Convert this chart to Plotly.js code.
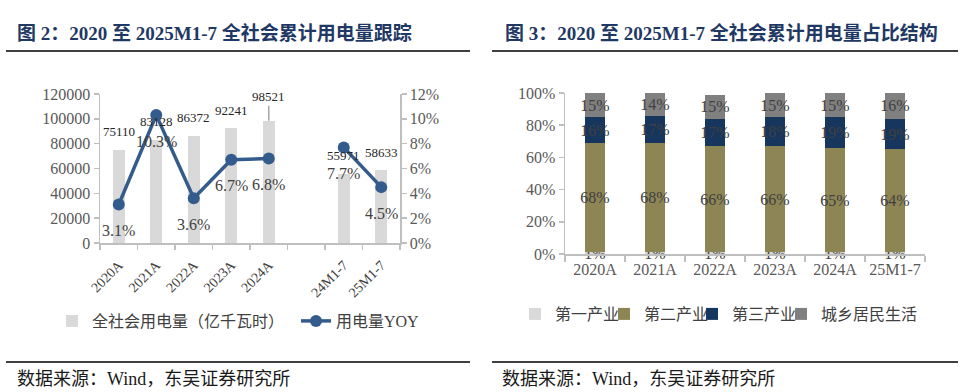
<!DOCTYPE html>
<html>
<head>
<meta charset="utf-8">
<script src="https://cdn.plot.ly/plotly-3.0.1.min.js"></script>
<style>
html,body{margin:0;padding:0;background:#fff;}
#chart{width:960px;height:392px;}
</style>
</head>
<body>
<div id="chart"></div>
<script>
// ---- data: left chart ----
const leftCategories = ['2020A','2021A','2022A','2023A','2024A',' ','24M1-7','25M1-7'];
const consumption = [75110, 83128, 86372, 92241, 98521, null, 55971, 58633];
const yoy = [3.1, 10.3, 3.6, 6.7, 6.8, null, 7.7, 4.5];

// ---- data: right chart ----
const rightCategories = ['2020A','2021A','2022A','2023A','2024A','25M1-7'];
const primaryShare = [1, 1, 1, 1, 1, 1];
const secondaryShare = [68, 68, 66, 66, 65, 64];
const tertiaryShare = [16, 17, 17, 18, 19, 19];
const residentialShare = [15, 14, 15, 15, 15, 16];

const leftTitle = '图 2：2020 至 2025M1-7 全社会累计用电量跟踪';
const rightTitle = '图 3：2020 至 2025M1-7 全社会累计用电量占比结构';
const sourceText = '数据来源：Wind，东吴证券研究所';

const SERIF = '"Liberation Serif", "Times New Roman", "Noto Sans CJK SC", serif';
const W = 960, H = 392;
const px = v => v / W;
const py = v => (H - v) / H;
const axisGray = '#bfbfbf';
const tickColor = '#595959';
const labelColor = '#404040';

const traces = [
  {
    type: 'bar', x: leftCategories, y: consumption, xaxis: 'x', yaxis: 'y',
    name: '全社会用电量（亿千瓦时）', marker: {color: '#d9d9d9'}, width: 0.32,
    legend: 'legend', hoverinfo: 'x+y'
  },
  {
    type: 'scatter', mode: 'lines+markers', x: leftCategories, y: yoy, xaxis: 'x', yaxis: 'y2',
    name: '用电量YOY', line: {color: '#335B8C', width: 3.5}, marker: {color: '#335B8C', size: 12},
    connectgaps: false, legend: 'legend6'
  }
];

const rightSeries = [
  {name: '第一产业', values: primaryShare, color: '#d9d9d9'},
  {name: '第二产业', values: secondaryShare, color: '#8E8554'},
  {name: '第三产业', values: tertiaryShare, color: '#17365D'},
  {name: '城乡居民生活', values: residentialShare, color: '#808080'}
];
rightSeries.forEach((s, k) => {
  traces.push({
    type: 'bar', x: rightCategories, y: s.values, xaxis: 'x2', yaxis: 'y3',
    name: s.name, marker: {color: s.color}, width: 0.32,
    text: s.values.map(v => v + '%'), textposition: 'inside', insidetextanchor: 'middle',
    constraintext: 'none', textangle: 0,
    insidetextfont: {family: SERIF, size: 16, color: labelColor},
    legend: 'legend' + (k + 2), cliponaxis: false
  });
});

const annotations = [];
// bar value labels (left)
const maxConsumption = Math.max(...consumption.filter(d => d !== null));
consumption.forEach((v, i) => {
  if (v === null) return;
  if (v === maxConsumption) {
    annotations.push({x: leftCategories[i], y: v, xref: 'x', yref: 'y', text: String(v),
      showarrow: true, arrowhead: 0, arrowwidth: 1.5, arrowcolor: '#a6a6a6', ax: 0, ay: -24,
      font: {family: SERIF, size: 13, color: '#262626'}});
  } else {
    annotations.push({x: leftCategories[i], y: v, xref: 'x', yref: 'y', text: String(v),
      showarrow: false, yshift: 18, font: {family: SERIF, size: 13, color: '#262626'}});
  }
});
// YOY labels
yoy.forEach((v, i) => {
  if (v === null) return;
  annotations.push({x: leftCategories[i], y: v, xref: 'x', yref: 'y2', text: v.toFixed(1) + '%',
    showarrow: false, yshift: -26, font: {family: SERIF, size: 16, color: labelColor}});
});
// titles & source
[[15, leftTitle], [503, rightTitle]].forEach(([x, t]) => {
  annotations.push({xref: 'paper', yref: 'paper', x: px(x), y: py(33), xanchor: 'left', yanchor: 'middle',
    text: '<b>' + t + '</b>', showarrow: false,
    font: {family: SERIF, size: 19, color: '#1F3864'}});
});
[[15, sourceText], [500, sourceText]].forEach(([x, t]) => {
  annotations.push({xref: 'paper', yref: 'paper', x: px(x), y: py(379), xanchor: 'left', yanchor: 'middle',
    text: t, showarrow: false, font: {family: SERIF, size: 18, color: '#1a1a1a'}});
});

const shapes = [
  {type: 'line', xref: 'paper', yref: 'paper', x0: px(6), x1: px(470), y0: py(51), y1: py(51), line: {color: '#000', width: 1.5}},
  {type: 'line', xref: 'paper', yref: 'paper', x0: px(492), x1: px(958), y0: py(51), y1: py(51), line: {color: '#000', width: 1.5}},
  {type: 'line', xref: 'paper', yref: 'paper', x0: px(6), x1: px(470), y0: py(362), y1: py(362), line: {color: '#000', width: 1.5}},
  {type: 'line', xref: 'paper', yref: 'paper', x0: px(492), x1: px(958), y0: py(362), y1: py(362), line: {color: '#000', width: 1.5}}
];

const axisCommon = {
  showline: true, linecolor: axisGray, linewidth: 1.5, showgrid: false, zeroline: false,
  ticks: 'outside', tickcolor: axisGray, ticklen: 5, tickwidth: 1.5,
  tickfont: {family: SERIF, size: 16, color: tickColor}, fixedrange: true
};

const legendCommon = {
  orientation: 'h', xanchor: 'left', yanchor: 'middle', traceorder: 'normal',
  font: {family: SERIF, size: 16, color: '#404040'}, bgcolor: 'rgba(0,0,0,0)',
  itemclick: false, itemdoubleclick: false, itemwidth: 30
};

const layout = {
  width: W, height: H,
  margin: {l: 0, r: 0, t: 0, b: 0},
  paper_bgcolor: '#fff', plot_bgcolor: 'rgba(0,0,0,0)',
  barmode: 'stack', showlegend: true,
  font: {family: SERIF, color: tickColor},
  xaxis: Object.assign({}, axisCommon, {
    domain: [px(100), px(400)], anchor: 'y', type: 'category',
    categoryorder: 'array', categoryarray: leftCategories, range: [-0.5, 7.5],
    tickson: 'boundaries', tickangle: -45, ticklabelstandoff: 7,
    tickfont: {family: SERIF, size: 14, color: '#404040'}
  }),
  yaxis: Object.assign({}, axisCommon, {
    domain: [py(243), py(94)], anchor: 'x', range: [0, 120000], dtick: 20000, tickformat: 'd'
  }),
  yaxis2: Object.assign({}, axisCommon, {
    overlaying: 'y', side: 'right', anchor: 'x', range: [0, 12], dtick: 2, ticksuffix: '%'
  }),
  xaxis2: Object.assign({}, axisCommon, {
    domain: [px(565), px(925)], anchor: 'y3', type: 'category',
    categoryorder: 'array', categoryarray: rightCategories, range: [-0.5, 5.5],
    tickson: 'boundaries', tickangle: 0, ticklen: 6
  }),
  yaxis3: Object.assign({}, axisCommon, {
    domain: [py(254), py(93)], anchor: 'x2', range: [0, 100], dtick: 20, ticksuffix: '%'
  }),
  legend: Object.assign({}, legendCommon, {x: px(52), y: py(321)}),
  legend6: Object.assign({}, legendCommon, {x: px(296), y: py(321)}),
  legend2: Object.assign({}, legendCommon, {x: px(515), y: py(314)}),
  legend3: Object.assign({}, legendCommon, {x: px(604), y: py(314)}),
  legend4: Object.assign({}, legendCommon, {x: px(692), y: py(314)}),
  legend5: Object.assign({}, legendCommon, {x: px(781), y: py(314)}),
  annotations: annotations,
  shapes: shapes
};

Plotly.newPlot('chart', traces, layout, {displayModeBar: false, staticPlot: true});
</script>
</body>
</html>
